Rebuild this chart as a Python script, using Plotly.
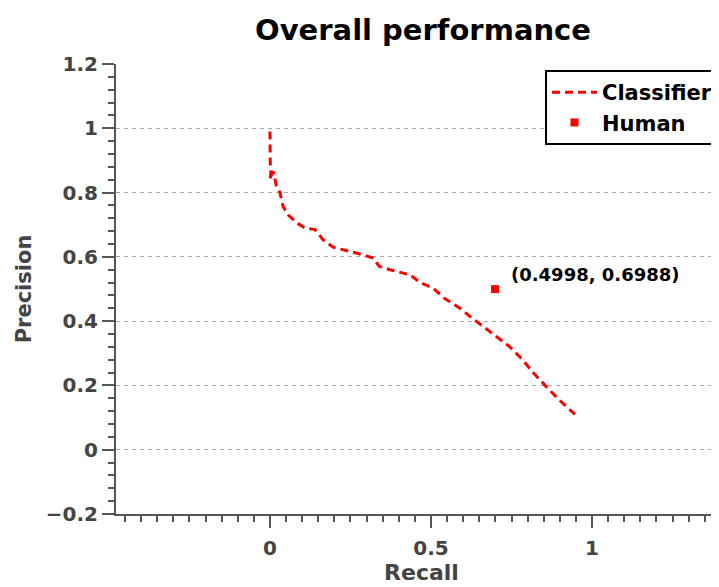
import plotly.graph_objects as go

# Classifier precision-recall curve
classifier_recall = [0.0, 0.0, 0.002, 0.001, 0.004, 0.003, 0.001, 0.006, 0.012, 0.010, 0.015,
                     0.020, 0.031, 0.041, 0.057, 0.083, 0.108, 0.140, 0.165, 0.196, 0.238,
                     0.258, 0.290, 0.320, 0.340, 0.373, 0.404, 0.435, 0.466, 0.506, 0.543,
                     0.590, 0.627, 0.668, 0.705, 0.745, 0.786, 0.817, 0.860, 0.900, 0.947]
classifier_precision = [0.99, 0.95, 0.92, 0.89, 0.88, 0.86, 0.84, 0.86, 0.865, 0.85, 0.845,
                        0.82, 0.80, 0.756, 0.73, 0.706, 0.69, 0.685, 0.653, 0.63, 0.62,
                        0.616, 0.606, 0.596, 0.57, 0.56, 0.553, 0.544, 0.52, 0.503, 0.47,
                        0.44, 0.41, 0.378, 0.35, 0.32, 0.278, 0.24, 0.194, 0.153, 0.11]

# Human performance point
human_recall = [0.6988]
human_precision = [0.4998]
human_label = "(0.4998, 0.6988)"

title_text = "Overall performance"
x_title = "Recall"
y_title = "Precision"
x_tickvals = [0, 0.5, 1]
x_ticktext = ["0", "0.5", "1"]
y_tickvals = [-0.2, 0, 0.2, 0.4, 0.6, 0.8, 1, 1.2]
y_ticktext = ["\u22120.2", "0", "0.2", "0.4", "0.6", "0.8", "1", "1.2"]

FONT = "DejaVu Sans"
TICK_COLOR = "#444444"
AXIS_COLOR = "#555555"

W, H = 719, 579  # page body adds an 8px offset; the right edge runs past the window
PLOT_W = W - 108

fig = go.Figure()
fig.add_trace(go.Scatter(
    x=classifier_recall, y=classifier_precision, mode="lines", name="Classifier",
    line=dict(color="#ff0000", width=3, dash="8px,5px"),
))
fig.add_trace(go.Scatter(
    x=human_recall, y=human_precision, mode="markers", name="Human",
    marker=dict(color="#ff0000", symbol="square", size=8),
))
fig.add_annotation(
    x=human_recall[0], y=human_precision[0], text=human_label, showarrow=False,
    xanchor="left", yanchor="middle", xshift=14, yshift=15,
    font=dict(family=FONT, size=18, color="black", weight=700),
)

fig.update_layout(
    width=W, height=H,
    margin=dict(l=108, r=0, t=56, b=73),
    paper_bgcolor="white", plot_bgcolor="white",
    title=dict(text=title_text, x=415 / W, xref="container", xanchor="center",
               y=1 - 22 / H, yref="container", yanchor="middle",
               font=dict(family=FONT, size=29, color="black", weight=700)),
    showlegend=True,
    legend=dict(x=(537 - 108) / PLOT_W, y=(506 - 62) / 450, xanchor="left", yanchor="top",
                bgcolor="white", bordercolor="black", borderwidth=2,
                font=dict(family=FONT, size=21, color="black", weight=700),
                tracegroupgap=0, itemwidth=45, entrywidth=200),
    xaxis=dict(range=[-0.478, 1.419], tickmode="array", tickvals=x_tickvals,
               ticktext=x_ticktext,
               showgrid=False, zeroline=False, showline=True, linecolor=AXIS_COLOR, linewidth=2,
               ticks="outside", ticklen=12, tickwidth=1.5, tickcolor=AXIS_COLOR,
               ticklabelstandoff=3,
               minor=dict(dtick=0.05, tick0=0, ticks="outside", ticklen=6, tickwidth=1.5,
                          tickcolor=AXIS_COLOR, showgrid=False),
               tickfont=dict(family=FONT, size=20, color=TICK_COLOR, weight=700),
               title=dict(text=x_title, standoff=4,
                          font=dict(family=FONT, size=22, color=TICK_COLOR, weight=700)),
               automargin=False),
    yaxis=dict(range=[-0.2, 1.2], tickmode="array", tickvals=y_tickvals, ticktext=y_ticktext,
               showgrid=True, gridcolor="#aaaaaa", gridwidth=1, griddash="4px,4px",
               zeroline=False, showline=True, linecolor=AXIS_COLOR, linewidth=2,
               ticks="outside", ticklen=12, tickwidth=1.5, tickcolor=AXIS_COLOR,
               minor=dict(dtick=0.04, tick0=0, ticks="outside", ticklen=6, tickwidth=1.5,
                          tickcolor=AXIS_COLOR, showgrid=False),
               tickfont=dict(family=FONT, size=20, color=TICK_COLOR, weight=700),
               title=dict(text=y_title, standoff=8,
                          font=dict(family=FONT, size=21, color=TICK_COLOR, weight=700)),
               automargin=False),
)

fig.write_html("out.html")
